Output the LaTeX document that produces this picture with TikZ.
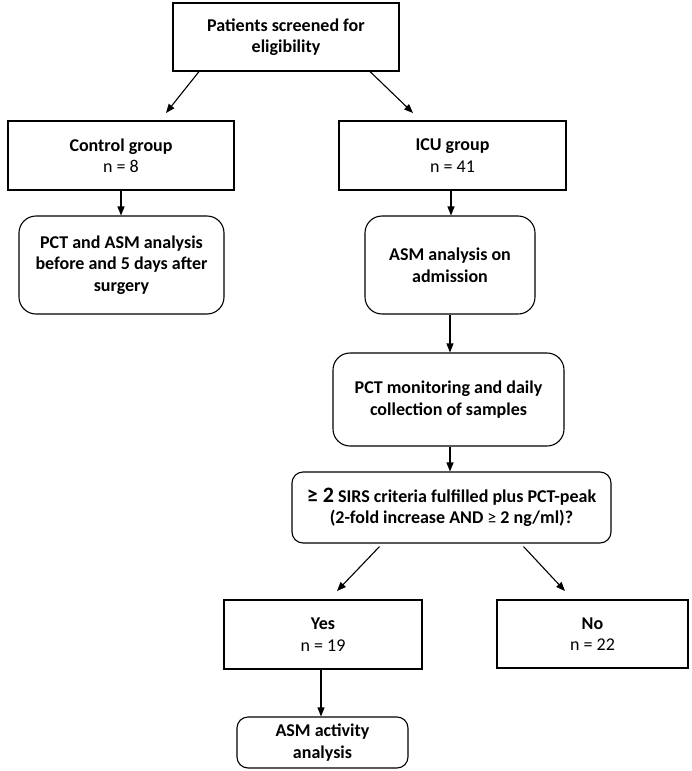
\documentclass[tikz,border=0pt]{standalone}
\usepackage{fontspec}
\setmainfont{Carlito}
\usetikzlibrary{arrows.meta}
\tikzset{
  box/.style={draw, line width=1.1pt, align=center, inner sep=0pt, font=\fontsize{18pt}{21.5pt}\selectfont},
  rbox/.style={box, rounded corners=17pt},
  sbox/.style={box, rounded corners=11pt},
  arr/.style={line width=1.1pt, -{Triangle[length=9pt,width=7pt]}},
}
\begin{document}
\begin{tikzpicture}[x=1pt,y=-1pt]
\useasboundingbox (0,0) rectangle (691,771);
\node[box, minimum width=226pt, minimum height=68pt] (top) at (286,37) {\textbf{Patients screened for}\\\textbf{eligibility}};
\node[box, minimum width=226pt, minimum height=69pt] (ctrl) at (121,155.5) {\textbf{Control group}\\n = 8};
\node[box, minimum width=227pt, minimum height=69pt] (icu) at (452.5,155.5) {\textbf{ICU group}\\n = 41};
\node[rbox, minimum width=205pt, minimum height=98pt] (pctasm) at (121.5,265) {\textbf{PCT and ASM analysis}\\\textbf{before and 5 days after}\\\textbf{surgery}};
\node[rbox, minimum width=170pt, minimum height=98pt] (asmadm) at (450,265) {\textbf{ASM analysis on}\\\textbf{admission}};
\node[rbox, minimum width=231pt, minimum height=93pt] (pctmon) at (448.5,399.5) {\textbf{PCT monitoring and daily}\\\textbf{collection of samples}};
\node[sbox, minimum width=319pt, minimum height=71pt] (sirs) at (451.5,507.5) {\textbf{{\fontsize{22pt}{22pt}\selectfont ≥ 2} SIRS criteria fulfilled plus PCT-peak}\\\textbf{(2-fold increase AND }≥\textbf{ 2 ng/ml)?}};
\node[box, minimum width=198pt, minimum height=69pt] (yes) at (323,634.5) {\textbf{Yes}\\n = 19};
\node[box, minimum width=191pt, minimum height=68pt] (no) at (592.5,634) {\textbf{No}\\n = 22};
\node[sbox, minimum width=171pt, minimum height=51pt] (asmact) at (322.5,742.5) {\textbf{ASM activity}\\\textbf{analysis}};

\coordinate (tl) at (166,113);
\coordinate (tr) at (413,113);
\coordinate (sl) at (337,591);
\coordinate (sr) at (565,591);
\draw[arr] ([xshift=-87pt]top.south) -- (tl);
\draw[arr] ([xshift=84pt]top.south) -- (tr);
\draw[arr] (ctrl.south) -- (ctrl.south |- pctasm.north);
\draw[arr] ([xshift=-1.5pt]icu.south) -- ([xshift=-1.5pt]icu.south |- asmadm.north);
\draw[arr] (asmadm.south) -- (asmadm.south |- pctmon.north);
\draw[arr] ([xshift=1.5pt]pctmon.south) -- ([xshift=1.5pt]pctmon.south |- sirs.north);
\draw[arr] ([xshift=-72pt,yshift=-3pt]sirs.south) -- (sl);
\draw[arr] ([xshift=72pt,yshift=-3pt]sirs.south) -- (sr);
\draw[arr] ([xshift=-2pt]yes.south) -- ([xshift=-2pt]yes.south |- asmact.north);
\end{tikzpicture}
\end{document}
